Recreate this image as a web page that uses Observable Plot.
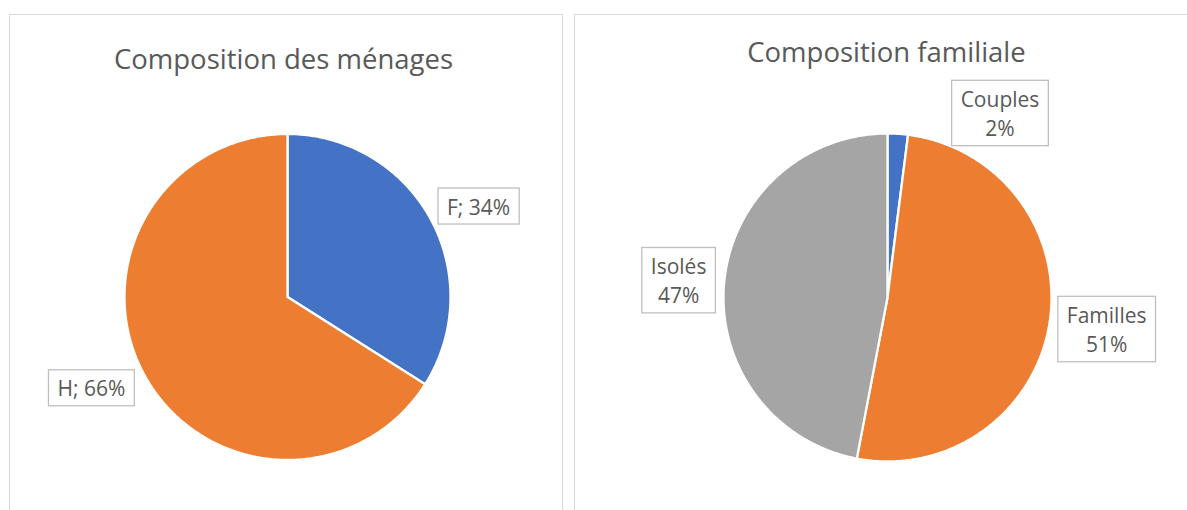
<!DOCTYPE html>
<html>
<head>
<meta charset="utf-8">
<script src="https://cdn.jsdelivr.net/npm/d3@7"></script>
<script src="https://cdn.jsdelivr.net/npm/@observablehq/plot@0.6"></script>
<style>
  html, body { margin: 0; padding: 0; background: #fff; overflow: hidden; }
  body { width: 1187px; height: 510px; position: relative; font-family: "Open Sans", sans-serif; }
  .panel { position: absolute; top: 14px; height: 600px; border: 1.5px solid #d9d9d9; box-sizing: border-box; }
  .chart { position: absolute; top: 0; }
</style>
</head>
<body>
<div class="panel" style="left:9px;width:554px"></div>
<div class="panel" style="left:574px;width:640px"></div>
<div id="c1" class="chart" style="left:9px"></div>
<div id="c2" class="chart" style="left:574px"></div>
<script>
// ---- data ----
const menagesTitle = "Composition des ménages";
const menagesLabels = ["F", "H"];
const menagesValues = [34, 66];
const menagesColors = ["#4472C4", "#ED7D31"];

const familleTitle = "Composition familiale";
const familleLabels = ["Couples", "Familles", "Isolés"];
const familleValues = [2, 51, 47];
const familleColors = ["#4472C4", "#ED7D31", "#A5A5A5"];

// ---- layout ----
const layouts = {
  menages: { width: 554, cx: 278, cy: 296.5, r: 163, titleY: 60, titleDx: -4, sep: "; ",
             nudges: [[4, 11], [-9, -13]] },
  famille: { width: 613, cx: 313, cy: 297, r: 164, titleY: 53, titleDx: -1, sep: "\n",
             nudges: [[99, 29], [7, -3], [5, 2]] }
};

function pieChart(title, labels, values, colors, L) {
  const arcs = d3.pie().sort(null).value(d => d)(values);
  const pts = [];
  arcs.forEach((a, i) => {
    pts.push({k: labels[i], x: 0, y: 0});
    const n = Math.max(2, Math.ceil((a.endAngle - a.startAngle) / (Math.PI / 360)));
    for (let j = 0; j <= n; j++) {
      const t = a.startAngle + (a.endAngle - a.startAngle) * j / n;
      pts.push({k: labels[i], x: Math.sin(t), y: Math.cos(t)});
    }
    pts.push({k: labels[i], x: 0, y: 0});
  });
  const labelData = arcs.map((a, i) => {
    const m = (a.startAngle + a.endAngle) / 2;
    return {k: labels[i], text: labels[i] + L.sep + values[i] + "%", x: Math.sin(m) * 1.31, y: Math.cos(m) * 1.31, n: L.nudges[i]};
  });
  const marks = [
    Plot.line(pts, {x: "x", y: "y", z: "k", fill: "k", stroke: "white", strokeWidth: 2.3, strokeLinejoin: "round"}),
    Plot.text([title], {x: () => 0, frameAnchor: "top", dy: L.titleY, dx: L.titleDx, text: d => d,
      fontSize: 27.5, fill: "#595959", lineAnchor: "middle"})
  ];
  labelData.forEach(d => {
    marks.push(Plot.text([d], {x: "x", y: "y", text: "text", dx: d.n[0], dy: d.n[1],
      fontSize: 21, lineHeight: 1.4, fill: "#595959", lineAnchor: "middle"}));
  });
  return Plot.plot({
    width: L.width, height: 510,
    margin: 0,
    style: {fontFamily: "'Open Sans', sans-serif", background: "transparent", overflow: "visible"},
    x: {domain: [-1, 1], range: [L.cx - L.r, L.cx + L.r], axis: null},
    y: {domain: [-1, 1], range: [L.cy + L.r, L.cy - L.r], axis: null},
    color: {domain: labels, range: colors},
    marks
  });
}

function addBoxes(svg) {
  Array.from(svg.querySelectorAll("text")).filter(t => t.textContent.includes("%")).forEach(t => {
    const b = t.getBBox();
    const tr = t.getAttribute("transform");
    const rect = document.createElementNS("http://www.w3.org/2000/svg", "rect");
    rect.setAttribute("x", b.x - 9);
    rect.setAttribute("y", b.y - 4.5);
    rect.setAttribute("width", b.width + 18);
    rect.setAttribute("height", b.height + 8);
    rect.setAttribute("fill", "white");
    rect.setAttribute("stroke", "#bfbfbf");
    rect.setAttribute("stroke-width", 1.3);
    if (tr) rect.setAttribute("transform", tr);
    t.parentNode.insertBefore(rect, t);
  });
}

const s1 = pieChart(menagesTitle, menagesLabels, menagesValues, menagesColors, layouts.menages);
document.getElementById("c1").appendChild(s1);
addBoxes(s1);
const s2 = pieChart(familleTitle, familleLabels, familleValues, familleColors, layouts.famille);
document.getElementById("c2").appendChild(s2);
addBoxes(s2);
</script>
</body>
</html>
